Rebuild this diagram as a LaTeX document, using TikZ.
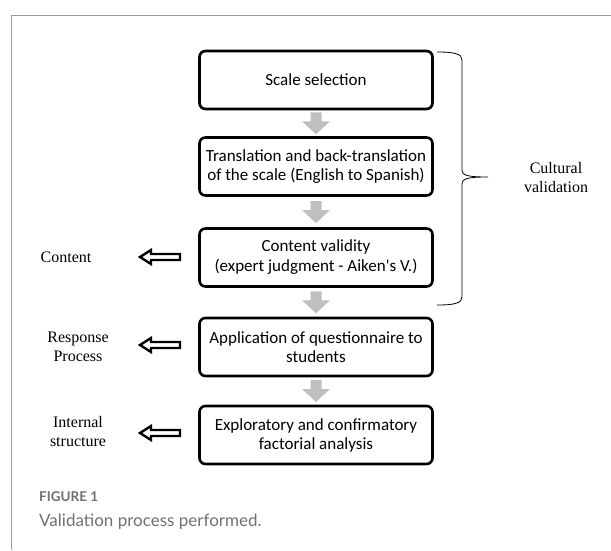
\documentclass[tikz,border=0pt]{standalone}
\usepackage{fontspec}
\setmainfont{Liberation Serif}
\newfontfamily\boxfont{Carlito}
\newfontfamily\capfont{Lato}
\usetikzlibrary{calc}
\definecolor{framegray}{HTML}{9A9A9A}
\definecolor{arrgray}{HTML}{BFBFBF}
\definecolor{capgray}{HTML}{707070}
\tikzset{
  stepbox/.style={draw=black, line width=2.6pt, rounded corners=6pt, minimum width=233pt, minimum height=58pt, align=center, inner sep=2pt, font=\boxfont\fontsize{17}{19}\selectfont},
  sidelabel/.style={align=center, font=\fontsize{16}{19}\selectfont, inner sep=0pt},
  garrow/.style={fill=arrgray, draw=none},
  harrow/.style={draw=black, fill=white, line width=2.4pt, line join=miter},
}
\begin{document}
\begin{tikzpicture}[x=1pt, y=-1pt]
\useasboundingbox (0,0) rectangle (611,550);
% frame
\draw[framegray, line width=1pt] (11,550) -- (11,15) -- (611,15);
% boxes
\node[stepbox] (b1) at (316,80) {Scale selection};
\node[stepbox] (b2) at (316,166.5) {Translation and back-translation\\of the scale (English to Spanish)};
\node[stepbox] (b3) at (316,257.5) {Content validity\\[1pt](expert judgment - Aiken\symbol{39}s V.)};
\node[stepbox] (b4) at (316,347) {Application of questionnaire to\\students};
\node[stepbox] (b5) at (316,435) {Exploratory and confirmatory\\factorial analysis};
% gray block arrows
\foreach \a/\b in {b1/b2, b2/b3, b3/b4, b4/b5}{
  \coordinate (m) at ($(\a.south)!0.5!(\b.north)$);
  \fill[garrow] ($(m)+(-5.5,-11)$) -- ($(m)+(5.5,-11)$) -- ($(m)+(5.5,-2)$) -- ($(m)+(14,-2)$)
     -- ($(m)+(0,11)$) -- ($(m)+(-14,-2)$) -- ($(m)+(-5.5,-2)$) -- cycle;
}
% side labels
\node[sidelabel] (l1) at (66,257) {Content};
\node[sidelabel] (l2) at (78,347) {Response\\Process};
\node[sidelabel] (l3) at (78,432) {Internal\\structure};
% hollow arrows
\foreach \y/\n in {257/h1, 345/h2, 433/h3}{
  \coordinate (\n) at (140,\y);
  \draw[harrow] (\n) -- ++(11,-7) -- ++(0,4) -- ++(29,0) -- ++(0,6) -- ++(-29,0) -- ++(0,4) -- cycle;
}
% brace
\coordinate (bt) at (437,52);
\coordinate (bb) at (437,305);
\coordinate (tip) at (488,177);
\draw[black, line width=0.8pt] (bt) .. controls (455,52) and (462,54) .. (462,60)
  -- (462,170) .. controls (462,175) and (466,177) .. (tip)
  (tip) .. controls (466,177) and (462,179) .. (462,184)
  -- (462,297) .. controls (462,303) and (455,305) .. (bb);
\node[sidelabel] (cv) at (556,178) {Cultural\\validation};
% caption
\node[anchor=west, inner sep=0pt, text=capgray, font=\capfont\bfseries\fontsize{13.5}{15}\selectfont] (fig) at (39,497) {FIGURE 1};
\node[anchor=west, inner sep=0pt, text=capgray, font=\capfont\fontsize{17}{20}\selectfont] (cap) at (39,522) {Validation process performed.};
\end{tikzpicture}
\end{document}
